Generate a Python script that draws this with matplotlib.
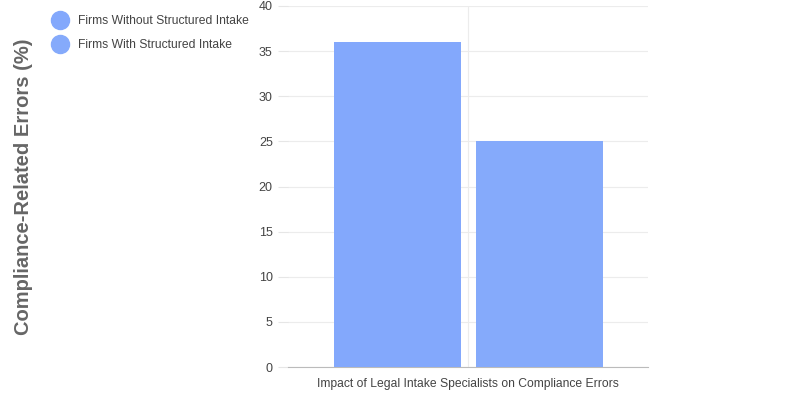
import matplotlib.pyplot as plt
from matplotlib.lines import Line2D

series = ["Firms Without Structured Intake", "Firms With Structured Intake"]
values = [36, 25]
colors = ["#83a8fc", "#85aafb"]
category = "Impact of Legal Intake Specialists on Compliance Errors"

plt.rcParams['font.family'] = ['Liberation Sans', 'DejaVu Sans']

fig = plt.figure(figsize=(8, 4), dpi=100)
ax = fig.add_axes([0.36, 0.0825, 0.45, 0.9025])

offsets = [-0.197, 0.198]
width = 0.353
for off, v, c in zip(offsets, values, colors):
    ax.bar(off, v, width, color=c, zorder=3)

ax.set_xlim(-0.5, 0.5)
ax.set_ylim(0, 40)
ax.set_yticks(range(0, 41, 5))
ax.set_xticks([0])
ax.set_xticklabels([category])
ax.tick_params(axis='x', length=0, pad=8, labelsize=8.7, labelcolor="#444444")
ax.tick_params(axis='y', length=7, color="#e6e6e6", labelsize=9, labelcolor="#444444", pad=4)
ax.grid(axis='y', color="#ececec", linewidth=0.8, zorder=0)
ax.axvline(0, color="#ececec", linewidth=0.8, zorder=0)
for s in ['top', 'right', 'left']:
    ax.spines[s].set_visible(False)
ax.spines['bottom'].set_color("#bbbbbb")
ax.spines['bottom'].set_linewidth(0.8)

fig.text(0.03, 0.534, "Compliance-Related Errors (%)", rotation=90, ha='center', va='center',
         fontsize=14.5, fontweight='bold', color="#666666")

handles = [Line2D([], [], marker='o', linestyle='none', markersize=13,
                  markerfacecolor=c, markeredgecolor=c) for c in colors]
fig.legend(handles, series, loc='upper left', bbox_to_anchor=(0.052, 0.99), frameon=False,
           fontsize=8.7, labelcolor="#444444", handletextpad=0.8, labelspacing=1.0,
           handlelength=1.3)

fig.savefig("out.png", dpi=100)
